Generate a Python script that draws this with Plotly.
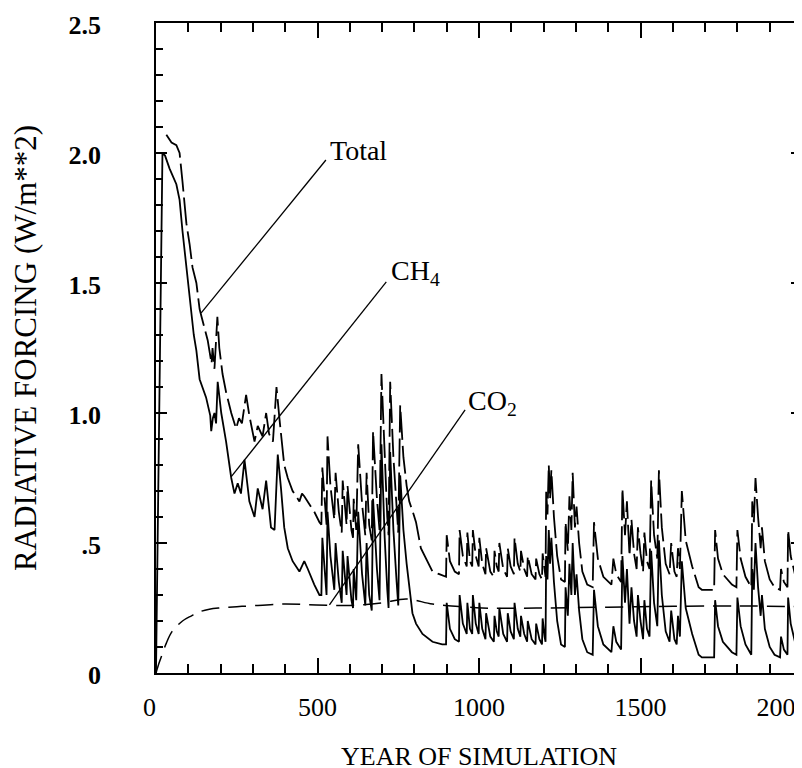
import plotly.graph_objects as go

# Radiative forcing from a clathrate/methane release simulation
# values

ch4_year = [0, 20, 28, 42, 63, 73, 82, 94, 104, 113, 117, 125, 135, 155, 168, 171, 176, 181, 186, 191,
            202, 217, 233, 243, 253, 263, 274, 289, 305, 315, 330, 341, 356, 367, 377, 387, 397, 408, 423, 444,
            459, 470, 490, 506,
            512, 515, 522, 528, 531, 540, 552, 556, 566, 575, 578, 590, 593, 605, 610, 612, 620, 626, 638, 648,
            652, 660, 668, 672, 684, 692, 698, 708, 716, 720, 725, 735, 745, 750, 756, 766, 776, 784, 794, 805,
            825, 856, 886,
            898, 900, 910, 925, 938, 940, 950, 962, 964, 972, 979, 981, 990, 999, 1001, 1010, 1020, 1022, 1035, 1046,
            1048, 1055, 1061, 1063, 1075, 1087, 1089, 1098, 1108, 1110, 1120, 1128, 1130, 1140, 1149, 1151, 1163, 1175,
            1177, 1187, 1195, 1197, 1203, 1206,
            1208, 1212, 1216, 1220, 1224, 1232, 1242, 1254, 1266, 1268, 1275, 1280, 1286, 1290, 1297, 1302, 1310, 1320,
            1335, 1352, 1356, 1368, 1385, 1410, 1416, 1425, 1440, 1444, 1452, 1458, 1466, 1472, 1480, 1488, 1492, 1500,
            1508, 1512, 1520, 1528, 1533, 1542, 1552, 1557, 1566, 1578, 1590, 1595, 1605, 1612, 1616, 1622, 1628, 1640,
            1660, 1680, 1690, 1728, 1731, 1740, 1755, 1783, 1797, 1800, 1810, 1825, 1843, 1846, 1851, 1856, 1864, 1872,
            1876, 1885, 1900, 1915, 1932, 1935, 1944, 1955, 1957, 1965, 1980, 2000]
ch4_val = [0.00, 2.00, 1.99, 1.94, 1.88, 1.82, 1.70, 1.56, 1.43, 1.34, 1.30, 1.24, 1.13, 1.06, 0.99, 0.93, 0.98, 1.00, 0.96, 1.12,
           1.00, 0.89, 0.75, 0.69, 0.73, 0.69, 0.82, 0.66, 0.60, 0.71, 0.63, 0.74, 0.56, 0.55, 0.84, 0.71, 0.56, 0.48, 0.43, 0.39,
           0.43, 0.40, 0.34, 0.30,
           0.30, 0.52, 0.38, 0.30, 0.62, 0.45, 0.32, 0.50, 0.35, 0.27, 0.47, 0.30, 0.45, 0.28, 0.25, 0.40, 0.28, 0.62, 0.38, 0.26,
           0.50, 0.30, 0.24, 0.67, 0.40, 0.28, 0.88, 0.52, 0.32, 0.25, 0.85, 0.55, 0.35, 0.26, 0.76, 0.55, 0.42, 0.33, 0.23, 0.19,
           0.15, 0.12, 0.11,
           0.11, 0.27, 0.17, 0.13, 0.12, 0.30, 0.19, 0.15, 0.27, 0.17, 0.15, 0.30, 0.19, 0.15, 0.27, 0.17, 0.13, 0.23, 0.14, 0.12,
           0.22, 0.16, 0.14, 0.25, 0.15, 0.12, 0.23, 0.16, 0.13, 0.27, 0.17, 0.14, 0.22, 0.15, 0.12, 0.20, 0.13, 0.11,
           0.19, 0.13, 0.11, 0.21, 0.14, 0.12,
           0.45, 0.36, 0.55, 0.42, 0.52, 0.35, 0.20, 0.11, 0.10, 0.33, 0.22, 0.42, 0.30, 0.50, 0.30, 0.38, 0.24, 0.13,
           0.08, 0.07, 0.32, 0.18, 0.11, 0.08, 0.18, 0.12, 0.09, 0.45, 0.27, 0.40, 0.19, 0.33, 0.20, 0.14, 0.30, 0.20,
           0.13, 0.28, 0.17, 0.14, 0.47, 0.27, 0.18, 0.51, 0.30, 0.16, 0.12, 0.24, 0.13, 0.11, 0.22, 0.14, 0.43, 0.25,
           0.15, 0.07, 0.06, 0.06, 0.28, 0.18, 0.12, 0.08, 0.07, 0.29, 0.18, 0.11, 0.07, 0.40, 0.32, 0.50, 0.33, 0.22,
           0.30, 0.17, 0.10, 0.07, 0.06, 0.14, 0.09, 0.07, 0.29, 0.19, 0.11, 0.08]

total_year = [32, 48, 63, 73, 82, 94, 104, 113, 125, 135, 141, 150, 160, 172, 175, 181, 190, 196, 206, 217,
              233, 248, 257, 266, 279, 289, 305, 315, 330, 341, 350, 362, 373, 382, 391, 397, 408, 423, 444, 452,
              459, 470, 490, 506,
              512, 515, 522, 528, 531, 540, 552, 556, 566, 575, 578, 590, 593, 605, 610, 612, 620, 626, 638, 648,
              652, 660, 668, 672, 684, 692, 698, 708, 716, 720, 725, 735, 745, 750, 756, 766, 776, 784, 795, 805,
              820, 836, 856, 877, 896,
              898, 900, 910, 925, 938, 940, 950, 962, 964, 972, 979, 981, 990, 999, 1001, 1010, 1020, 1022, 1035, 1046,
              1048, 1055, 1061, 1063, 1075, 1087, 1089, 1098, 1108, 1110, 1120, 1128, 1130, 1140, 1149, 1151, 1163, 1175,
              1177, 1187, 1195, 1197, 1203, 1206,
              1208, 1212, 1216, 1220, 1224, 1232, 1242, 1254, 1266, 1268, 1275, 1280, 1286, 1290, 1297, 1302, 1310, 1320,
              1335, 1352, 1356, 1368, 1385, 1410, 1416, 1425, 1440, 1444, 1452, 1458, 1466, 1472, 1480, 1488, 1492, 1500,
              1508, 1512, 1520, 1528, 1533, 1542, 1552, 1557, 1566, 1578, 1590, 1595, 1605, 1612, 1616, 1622, 1628, 1640,
              1660, 1680, 1690, 1728, 1731, 1740, 1755, 1783, 1797, 1800, 1810, 1825, 1843, 1846, 1851, 1856, 1864, 1872,
              1876, 1885, 1900, 1915, 1932, 1935, 1944, 1955, 1957, 1965, 1980, 2000]
total_val = [2.07, 2.04, 2.03, 2.00, 1.89, 1.73, 1.65, 1.56, 1.50, 1.40, 1.37, 1.33, 1.28, 1.19, 1.25, 1.17, 1.37, 1.25, 1.15, 1.08,
             1.00, 0.94, 0.98, 0.96, 1.07, 0.99, 0.89, 0.95, 0.91, 1.00, 0.92, 0.89, 1.10, 0.98, 0.87, 0.80, 0.75, 0.70, 0.66, 0.69,
             0.68, 0.66, 0.62, 0.58,
             0.57, 0.79, 0.65, 0.57, 0.91, 0.72, 0.59, 0.77, 0.62, 0.54, 0.74, 0.57, 0.72, 0.55, 0.52, 0.67, 0.55, 0.88, 0.65, 0.53,
             0.77, 0.57, 0.51, 0.93, 0.67, 0.55, 1.15, 0.80, 0.60, 0.53, 1.12, 0.83, 0.63, 0.54, 1.03, 0.83, 0.72, 0.66, 0.62, 0.58,
             0.48, 0.44, 0.39, 0.38, 0.37,
             0.37, 0.53, 0.43, 0.39, 0.38, 0.55, 0.45, 0.41, 0.54, 0.43, 0.41, 0.55, 0.45, 0.41, 0.52, 0.42, 0.38, 0.48, 0.39, 0.37,
             0.47, 0.41, 0.39, 0.50, 0.40, 0.37, 0.48, 0.41, 0.38, 0.52, 0.42, 0.39, 0.47, 0.40, 0.37, 0.45, 0.38, 0.36,
             0.44, 0.38, 0.36, 0.46, 0.39, 0.37,
             0.70, 0.61, 0.80, 0.67, 0.78, 0.60, 0.45, 0.36, 0.35, 0.58, 0.47, 0.68, 0.55, 0.77, 0.56, 0.64, 0.50, 0.39,
             0.34, 0.33, 0.58, 0.44, 0.37, 0.34, 0.44, 0.38, 0.35, 0.71, 0.53, 0.66, 0.45, 0.59, 0.46, 0.40, 0.56, 0.46,
             0.39, 0.54, 0.43, 0.40, 0.74, 0.53, 0.44, 0.78, 0.56, 0.42, 0.38, 0.50, 0.39, 0.37, 0.48, 0.40, 0.70, 0.51,
             0.41, 0.33, 0.32, 0.32, 0.55, 0.44, 0.38, 0.34, 0.33, 0.55, 0.44, 0.37, 0.33, 0.66, 0.58, 0.75, 0.60, 0.48,
             0.56, 0.43, 0.36, 0.33, 0.32, 0.40, 0.35, 0.33, 0.55, 0.45, 0.37, 0.34]

co2_year = [0, 10, 20, 32, 50, 82, 110, 134, 165, 196, 250, 290, 392, 496, 600, 700, 775, 856, 950, 1010,
            1200, 1500, 1800, 2000]
co2_val = [0.0, 0.04, 0.075, 0.115, 0.16, 0.20, 0.22, 0.235, 0.245, 0.25, 0.255, 0.258, 0.265, 0.262, 0.26, 0.27,
           0.285, 0.265, 0.255, 0.25, 0.25, 0.255, 0.258, 0.255]

# label pointers: (x0, y0) at the curve -> (x1, y1) at the text
labels = ['Total', 'CH<sub>4</sub>', 'CO<sub>2</sub>']
label_pos = [(531, 2.01), (722, 1.54), (960, 1.04)]
pointers = [(140, 1.385, 526, 1.973), (233, 0.755, 713, 1.504), (537, 0.262, 957, 1.012)]

x_ticks = [0, 500, 1000, 1500, 2000]
# non-breaking spaces nudge the end labels the way the original sits them
x_ticktext = ['0\u00a0\u00a0', '500', '1000', '1500', '2000' + '\u00a0' * 6]
y_ticks = [0, 0.5, 1.0, 1.5, 2.0, 2.5]
y_ticktext = ['<b>0</b>', '<b>.5</b>', '<b>1.0</b>', '<b>1.5</b>', '<b>2.0</b>', '<b>2.5</b>']

serif = 'Liberation Serif'

fig = go.Figure()

fig.add_trace(go.Scatter(x=ch4_year, y=ch4_val, mode='lines',
                         line=dict(color='black', width=1.8)))
fig.add_trace(go.Scatter(x=total_year, y=total_val, mode='lines',
                         line=dict(color='black', width=1.8, dash='28px,6px')))
fig.add_trace(go.Scatter(x=co2_year, y=co2_val, mode='lines', line_shape='spline',
                         line=dict(color='black', width=1.5, dash='18px,9px')))

for (x0, y0, x1, y1) in pointers:
    fig.add_shape(type='line', x0=x0, y0=y0, x1=x1, y1=y1, xref='x', yref='y',
                  line=dict(color='black', width=1.3))

for text, (lx, ly) in zip(labels, label_pos):
    fig.add_annotation(x=lx, y=ly, text=text, showarrow=False, xanchor='left', yanchor='middle',
                       font=dict(family=serif, size=28, color='black'))

fig.update_xaxes(range=[0, 2000], tickvals=x_ticks, ticktext=x_ticktext, ticks='inside', ticklen=15, tickwidth=1.5,
                 tickcolor='black', minor=dict(dtick=100, ticks='inside', ticklen=9, tickwidth=1.5, tickcolor='black'),
                 showline=True, linewidth=1.8, linecolor='black', mirror='allticks',
                 showgrid=False, zeroline=False, automargin=False, ticklabelstandoff=10,
                 ticklabeloverflow='allow',
                 tickfont=dict(family=serif, size=26, color='black'),
                 title=dict(text='YEAR OF SIMULATION', font=dict(family=serif, size=26, color='black'), standoff=26))
fig.update_yaxes(range=[0, 2.5], tickvals=y_ticks, ticktext=y_ticktext, ticks='inside', ticklen=11, tickwidth=1.5,
                 tickcolor='black', minor=dict(dtick=0.1, ticks='inside', ticklen=7, tickwidth=1.5, tickcolor='black'),
                 showline=True, linewidth=1.8, linecolor='black', mirror='allticks',
                 showgrid=False, zeroline=False, automargin=False, ticklabelstandoff=48, ticklabelshift=2,
                 ticklabeloverflow='allow',
                 tickfont=dict(family=serif, size=26, color='black'),
                 title=dict(text='RADIATIVE FORCING (W/m**2)', font=dict(family=serif, size=31, color='black'), standoff=24))

# the page body adds an 8px offset, so margins are trimmed to put the frame where the original has it
fig.update_layout(width=802, height=768, margin=dict(l=148, r=8, t=15, b=103),
                  paper_bgcolor='white', plot_bgcolor='white', showlegend=False)

fig.write_html("out.html")
